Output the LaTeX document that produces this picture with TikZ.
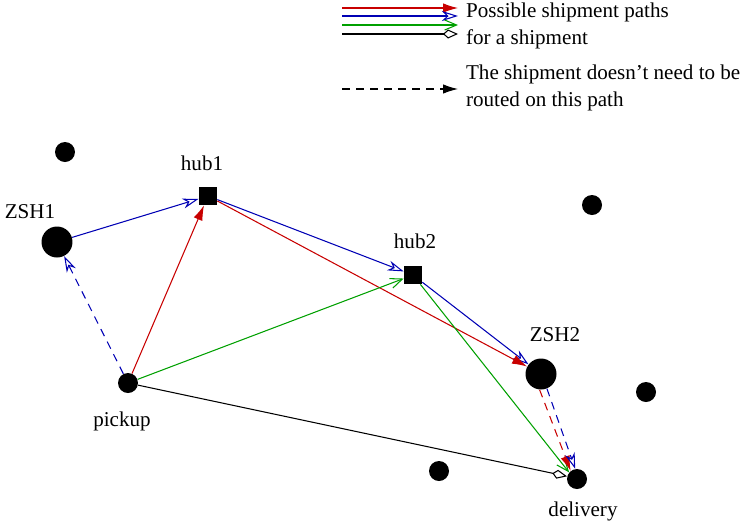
\documentclass[tikz,border=0pt]{standalone}
\usepackage{fontspec}
\setmainfont{Liberation Serif}
\usepackage{xcolor}
\usetikzlibrary{arrows.meta,positioning,calc}

\definecolor{pathred}{RGB}{200,0,0}
\definecolor{pathblue}{RGB}{0,0,180}
\definecolor{pathgreen}{RGB}{0,160,0}

\begin{document}
\begin{tikzpicture}[
    x=0.02cm, y=-0.02cm,
    font=\fontsize{12}{15}\selectfont,
    dot/.style={circle, fill=black, inner sep=0pt, minimum size=0.4cm},
    bigdot/.style={circle, fill=black, inner sep=0pt, minimum size=0.62cm},
    hub/.style={rectangle, fill=black, inner sep=0pt, minimum size=0.36cm},
    lbl/.style={inner sep=1pt},
    optional/.style={dash pattern=on 4.5pt off 3.5pt},
    redpath/.style={draw=pathred, line width=0.6pt, -{Latex[length=3mm,width=1.9mm,fill=pathred]}},
    bluepath/.style={draw=pathblue, line width=0.6pt, -{Stealth[open,length=3.2mm,width=2mm,inset=1mm]}},
    greenpath/.style={draw=pathgreen, line width=0.6pt, -{Straight Barb[length=2.4mm,width=2mm]}},
    blackpath/.style={draw=black, line width=0.6pt, -{Kite[open,length=3mm,width=1.8mm,inset=1mm,fill=white]}},
    optpath/.style={draw=black, line width=0.6pt, optional, -{Latex[length=3mm,width=1.9mm]}}
]
\useasboundingbox (0,0) rectangle (747,525);

% legend
\coordinate (redA) at (342,8);   \coordinate (redB) at (458,8);
\coordinate (blueA) at (342,16); \coordinate (blueB) at (458,16);
\coordinate (greenA) at (342,25); \coordinate (greenB) at (458,25);
\coordinate (blackA) at (342,34); \coordinate (blackB) at (458,34);
\coordinate (optA) at (342,89);  \coordinate (optB) at (458,89);
\draw[redpath] (redA) -- (redB);
\draw[bluepath] (blueA) -- (blueB);
\draw[greenpath] (greenA) -- (greenB);
\draw[blackpath] (blackA) -- (blackB);
\draw[optpath] (optA) -- (optB);
\node[lbl, anchor=west, align=left] (legpaths) at (464,26) {Possible shipment paths\\for a shipment};
\node[lbl, anchor=west, align=left] (legopt) at (464,88) {The shipment doesn't need to be\\routed on this path};

% locations
\node[dot] (dotA) at (65,152) {};
\node[dot] (dotB) at (592,205) {};
\node[dot] (dotC) at (646,392) {};
\node[dot] (dotD) at (439,471) {};
\node[bigdot] (zsh1) at (57,242) {};
\node[bigdot] (zsh2) at (541,374) {};
\node[hub] (hub1) at (208,196) {};
\node[hub] (hub2) at (413,275) {};
\node[dot] (pickup) at (128,383) {};
\node[dot] (delivery) at (577,479) {};

\node[lbl] (zsh1lbl) at (30,212) {ZSH1};
\node[lbl] (zsh2lbl) at (555,335) {ZSH2};
\node[lbl] (hub1lbl) at (202,163) {hub1};
\node[lbl] (hub2lbl) at (415,241) {hub2};
\node[lbl] (pickuplbl) at (122,421) {pickup};
\node[lbl] (deliverylbl) at (583,511) {delivery};

% paths
\draw[bluepath] (zsh1) -- (hub1);
\draw[bluepath] (hub1) -- (hub2);
\draw[bluepath] (hub2) -- (zsh2);
\draw[redpath] (pickup) -- (hub1);
\draw[redpath] (hub1) -- (zsh2);
\draw[greenpath] (pickup) -- (hub2);
\draw[greenpath] (hub2) -- (delivery.140);
\draw[blackpath] (pickup) -- (delivery.165);
\draw[bluepath, optional] (pickup) -- (zsh1);
\draw[redpath, optional] (zsh2.-95) -- (delivery.128);
\draw[bluepath, optional] (zsh2.-68) -- (delivery.100);
\end{tikzpicture}
\end{document}
